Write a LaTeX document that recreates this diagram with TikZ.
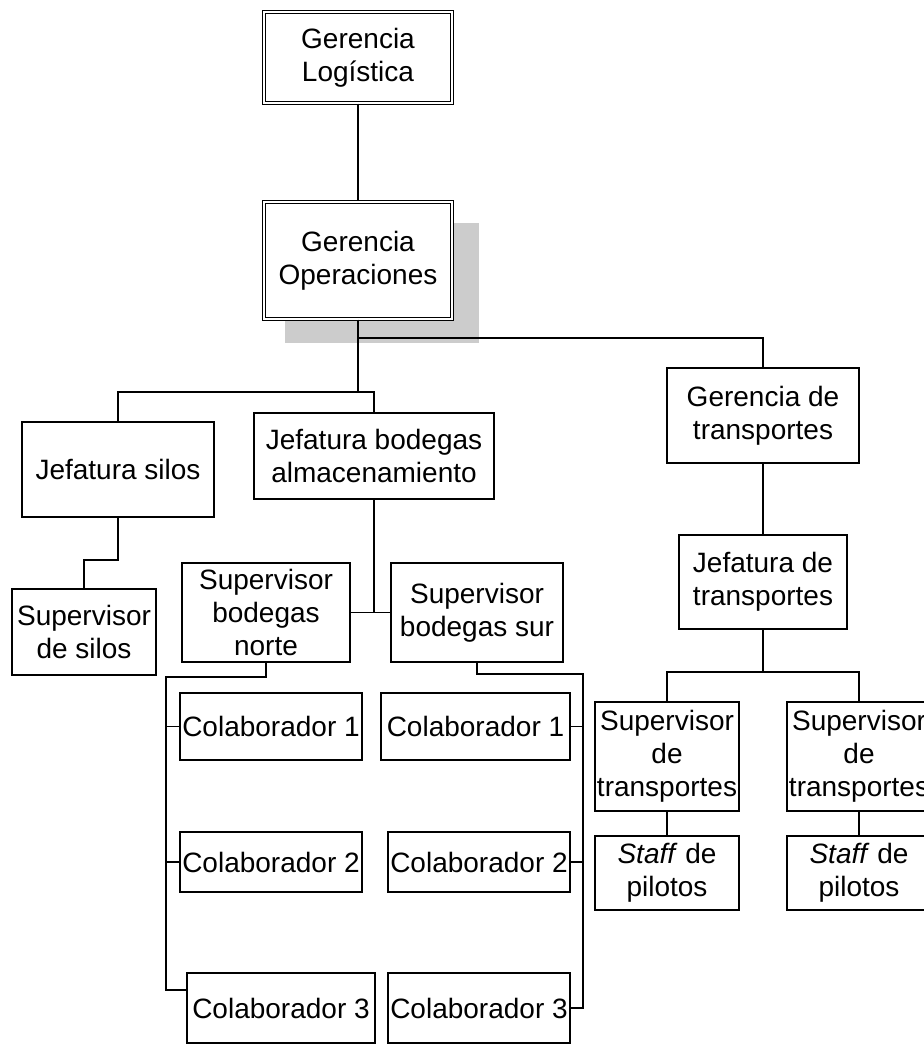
\documentclass[tikz,border=0pt]{standalone}
\usepackage{fontspec}
\setmainfont{Liberation Sans}
\definecolor{shadowgray}{HTML}{CCCCCC}
\begin{document}
\begin{tikzpicture}[x=1pt,y=-1pt,
  box/.style={draw=black, line width=1.5pt, fill=white, inner sep=0pt, align=center,
    font=\fontsize{28}{33}\selectfont},
  dbox/.style={box, line width=1.2pt, double=white, double distance=2.5pt},
  conn/.style={draw=black, line width=1.5pt},
  trunk/.style={draw=black, line width=2.5pt}]
\useasboundingbox (0,0) rectangle (924,1045);
\clip (0,0) rectangle (924,1045);
\fill[white] (0,0) rectangle (924,1045);

% shadow
\fill[shadowgray] (285,223) rectangle (479,343);

% nodes
\node[dbox, minimum width=188pt, minimum height=91pt] (GL) at (358,57.5) {Gerencia\\Logística};
\node[dbox, minimum width=188pt, minimum height=117pt] (GO) at (358,260.5) {Gerencia\\Operaciones};
\node[box, minimum width=192pt, minimum height=95pt] (JS) at (118,469.5) {Jefatura silos};
\node[box, minimum width=240pt, minimum height=86pt] (JB) at (374,456) {Jefatura bodegas\\almacenamiento};
\node[box, minimum width=144pt, minimum height=86pt] (SS) at (84,632) {Supervisor\\de silos};
\node[box, minimum width=168pt, minimum height=99pt] (SN) at (266,612.5) {Supervisor\\bodegas\\norte};
\node[box, minimum width=172pt, minimum height=99pt] (SSur) at (477,612.5) {Supervisor\\bodegas sur};
\node[box, minimum width=182pt, minimum height=67pt] (C1L) at (271,726.5) {Colaborador 1};
\node[box, minimum width=182pt, minimum height=60pt] (C2L) at (271,862) {Colaborador 2};
\node[box, minimum width=188pt, minimum height=70pt] (C3L) at (281,1008) {Colaborador 3};
\node[box, minimum width=189pt, minimum height=67pt] (C1R) at (475.5,726.5) {Colaborador 1};
\node[box, minimum width=182pt, minimum height=60pt] (C2R) at (479,862) {Colaborador 2};
\node[box, minimum width=182pt, minimum height=70pt] (C3R) at (479,1008) {Colaborador 3};
\node[box, minimum width=192pt, minimum height=95pt] (GT) at (763,415.5) {Gerencia de\\transportes};
\node[box, minimum width=168pt, minimum height=94pt] (JT) at (763,582) {Jefatura de\\transportes};
\node[box, minimum width=144pt, minimum height=109pt] (ST1) at (667,756.5) {Supervisor\\de\\transportes};
\node[box, minimum width=144pt, minimum height=109pt] (ST2) at (859,756.5) {Supervisor\\de\\transportes};
\node[box, minimum width=144pt, minimum height=74pt] (SP1) at (667,873) {\textit{Staff} de\\pilotos};
\node[box, minimum width=144pt, minimum height=74pt] (SP2) at (859,873) {\textit{Staff} de\\pilotos};

% coordinates
\coordinate (tb) at (358,392);
\coordinate (tr) at (358,338);
\coordinate (nl) at (166,677);
\coordinate (nb) at (166,990);
\coordinate (nr) at (583,674);
\coordinate (tj) at (763,672);

% connectors
\draw[conn] (GL.south) -- (GO.north);
\draw[trunk] (GO.south) -- (tb);
\draw[conn] (tr) -| (GT.north);
\draw[conn] (JS.north) |- (tb) -| (JB.north);
\draw[conn] (JS.south) -- ++(0,42) -| (SS.north);
\draw[conn] (JB.south) -- (JB.south |- SN.east);
\draw[conn] (SN.east) -- (SSur.west);
\draw[conn] (SN.south) |- (nl) -- (nb) -- (nb -| C3L.west);
\draw[conn] (C1L.west -| nl) -- (C1L.west);
\draw[conn] (C2L.west -| nl) -- (C2L.west);
\draw[conn] (SSur.south) |- (nr) |- (C3R.east);
\draw[conn] (C1R.east) -- (C1R.east -| nr);
\draw[conn] (C2R.east) -- (C2R.east -| nr);
\draw[conn] (GT.south) -- (JT.north);
\draw[conn] (JT.south) -- (tj);
\draw[conn] (ST1.north) |- (tj) -| (ST2.north);
\draw[conn] (ST1.south) -- (SP1.north);
\draw[conn] (ST2.south) -- (SP2.north);
\end{tikzpicture}
\end{document}
